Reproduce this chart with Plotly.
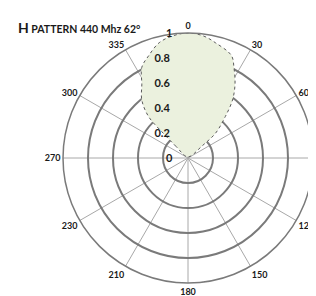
import plotly.graph_objects as go

# Pattern data (degrees clockwise from north, normalized gain)
angle_deg = [-50, -46, -45, -43.6, -38.5, -32, -27, -21, -14, -7, 0,
             7, 13.5, 23, 27, 32.5, 37.5, 42, 48, 49.5, 52]
gain = [0.02, 0.134, 0.278, 0.457, 0.594, 0.697, 0.814, 0.877, 0.951, 0.985, 1.0,
        0.985, 0.947, 0.89, 0.81, 0.70, 0.585, 0.446, 0.296, 0.145, 0.02]

spoke_vals = [0, 30, 60, 90, 120, 150, 180, 210, 240, 270, 300, 330]
spoke_labels = ["0", "30", "60", "90", "120", "150", "180", "210", "230", "270", "300", "335"]
radial_ticks = [0, 0.2, 0.4, 0.6, 0.8, 1]
radial_labels = ["0", "0.2", "0.4", "0.6", "0.8", "1"]

cx, cy, R = 180, 150, 125  # pixel centre / radius of the polar plot

# pad labels with non-breaking spaces so they sit left of the vertical spoke
pad = "\u00a0"
radial_text = [t + pad * (6 if len(t) > 1 else 5) for t in radial_labels]

fig = go.Figure()
fig.add_trace(go.Scatterpolar(
    r=gain + [gain[0]],
    theta=angle_deg + [angle_deg[0]],
    mode="lines",
    fill="toself",
    fillcolor="#EBF1DE",
    line=dict(color="#5a5a5a", width=1, dash="dot", shape="spline"),
    hoverinfo="skip",
))

fig.update_layout(
    width=316, height=296,
    margin=dict(l=0, r=0, t=0, b=0),
    paper_bgcolor="white",
    showlegend=False,
    polar=dict(
        domain=dict(x=[(cx - R) / 316, (cx + R) / 316],
                    y=[(296 - cy - R) / 296, (296 - cy + R) / 296]),
        bgcolor="white",
        angularaxis=dict(
            rotation=90, direction="clockwise",
            tickmode="array", tickvals=spoke_vals, ticktext=spoke_labels,
            tickfont=dict(family="Lato", size=9, color="#1a1a1a", weight="bold"),
            ticks="", showline=True, linecolor="#7a7a7a", linewidth=1.5,
            gridcolor="#a8a8a8", gridwidth=1,
        ),
        radialaxis=dict(
            range=[0, 1], angle=90, side="counterclockwise",
            tickmode="array", tickvals=radial_ticks, ticktext=radial_text,
            tickfont=dict(family="Lato", size=11, color="#1a1a1a", weight="bold"),
            ticks="", showline=False,
            gridcolor="#7a7a7a", gridwidth=1.5,
            tickangle=90,
        ),
    ),
    annotations=[dict(
        x=8 / 316, y=1 - 20 / 296, xref="paper", yref="paper",
        xanchor="left", yanchor="middle", showarrow=False,
        text="<b><span style='font-size:14px'>H</span> PATTERN 440 Mhz 62°</b>",
        font=dict(family="Lato", size=10.5, color="#1a1a1a"),
    )],
)

fig.write_html("out.html")
